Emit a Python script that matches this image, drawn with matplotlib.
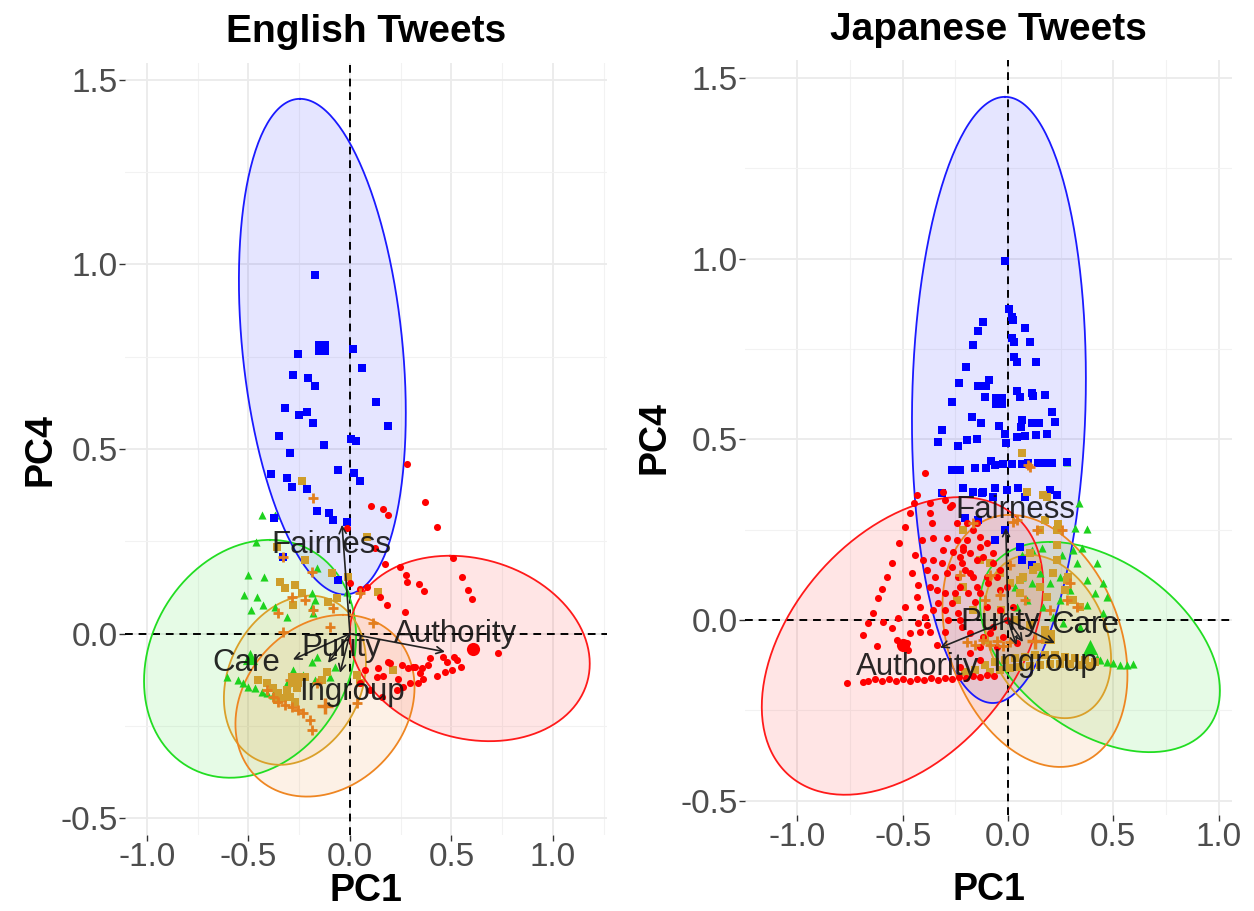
import numpy as np
import matplotlib
matplotlib.use("Agg")
import matplotlib.pyplot as plt

plt.rcParams['font.family'] = ['Liberation Sans', 'DejaVu Sans']

# ---------------- English tweets (left panel) ----------------
en_fair_x = [-0.172, 0.015, -0.256, 0.059, -0.281, -0.207, -0.172, 0.128, -0.320, -0.251, -0.212,
             -0.182, 0.187, -0.350, -0.128, -0.296, 0.005, 0.030, -0.059, 0.020, 0.049, -0.389,
             -0.310, -0.286, -0.212, -0.163, -0.103, -0.084, -0.015, -0.374, -0.330, -0.059]
en_fair_y = [0.972, 0.771, 0.758, 0.720, 0.701, 0.693, 0.671, 0.628, 0.612, 0.593, 0.601,
             0.571, 0.563, 0.536, 0.512, 0.490, 0.528, 0.522, 0.444, 0.436, 0.414, 0.433,
             0.422, 0.398, 0.393, 0.333, 0.328, 0.309, 0.303, 0.314, 0.208, 0.146]

en_auth_x = [0.281, 0.369, 0.429, 0.103, 0.163, 0.187, -0.015, 0.123, 0.172, 0.246, 0.276, 0.281,
             0.340, 0.365, 0.507, 0.552, 0.581, 0.601, 0.084, 0.148, 0.182, 0.271, 0.000, 0.049,
             0.729, 0.458, 0.478, 0.512, 0.527, 0.547, 0.502, 0.468, 0.394, 0.384, 0.355, 0.320,
             0.345, 0.429, 0.360, 0.335, 0.197, 0.256, 0.286, 0.163, 0.236, 0.261, 0.187, 0.138,
             0.133, 0.074, 0.049, 0.099, 0.158, 0.232, 0.310, 0.296]
en_auth_y = [0.460, 0.357, 0.290, 0.347, 0.338, 0.322, 0.287, 0.233, 0.190, 0.181, 0.160, 0.141,
             0.135, 0.116, 0.206, 0.154, 0.119, 0.095, 0.127, 0.100, 0.079, 0.060, 0.138, 0.122,
             -0.051, -0.062, -0.076, -0.062, -0.070, -0.089, -0.097, -0.103, -0.065, -0.084, -0.092, -0.089,
             -0.106, -0.114, -0.122, -0.133, -0.079, -0.084, -0.092, -0.114, -0.122, -0.143, -0.076, -0.092,
             -0.116, -0.097, -0.133, -0.152, -0.171, -0.152, -0.089, -0.133]

en_care_x = [-0.433, -0.369, -0.463, -0.502, -0.424, -0.522, -0.458, -0.429, -0.488, -0.369, -0.310,
             -0.187, -0.172, -0.187, -0.182, -0.163, -0.015, -0.606, -0.552, -0.527, -0.502, -0.468,
             -0.433, -0.409, -0.379, -0.281, -0.232, -0.172, -0.187, -0.163, -0.074, -0.099, -0.310]
en_care_y = [0.322, 0.322, 0.249, 0.160, 0.154, 0.106, 0.100, 0.079, 0.065, 0.073, 0.046,
             0.111, 0.092, 0.073, 0.057, 0.179, 0.114, -0.116, -0.125, -0.133, -0.143, -0.146,
             -0.157, -0.160, -0.165, -0.097, -0.111, -0.125, -0.076, -0.062, -0.089, -0.116, -0.133]

en_ingr_x = [-0.236, 0.084, -0.360, -0.222, -0.089, -0.010, -0.345, -0.271, -0.320, -0.236, -0.281,
             -0.108, -0.064, 0.138, 0.212, -0.453, -0.409, -0.379, -0.355, -0.330, -0.296, -0.261,
             -0.222, -0.138, -0.113, 0.034, 0.049, -0.310, -0.360, -0.271]
en_ingr_y = [0.414, 0.263, 0.236, 0.200, 0.165, 0.154, 0.141, 0.133, 0.125, 0.111, 0.079,
             0.087, 0.097, 0.114, -0.097, -0.125, -0.133, -0.146, -0.160, -0.173, -0.171, -0.146,
             -0.116, -0.125, -0.103, -0.111, -0.133, -0.152, -0.179, -0.184]

en_pur_x = [-0.182, -0.330, -0.187, -0.286, -0.222, -0.355, -0.182, -0.084, -0.330, -0.099, 0.113,
            0.049, -0.379, -0.355, -0.320, -0.286, -0.256, -0.232, -0.197, -0.187, 0.034, -0.163,
            -0.296, -0.409]
en_pur_y = [0.368, 0.208, 0.168, 0.100, 0.092, 0.057, 0.065, 0.070, 0.005, 0.019, 0.030,
            0.111, -0.171, -0.184, -0.192, -0.198, -0.206, -0.214, -0.233, -0.260, -0.187, -0.133,
            -0.125, -0.152]

# group means: Care, Fairness, Ingroup, Authority, Purity
en_mean_x = [-0.493, -0.138, -0.271, 0.606, -0.123]
en_mean_y = [-0.062, 0.774, -0.126, -0.041, -0.195]

# ellipses: centre, offset to topmost point, horizontal half chord through centre
en_ell_cx = [-0.492, -0.136, -0.271, 0.590, -0.123]
en_ell_cy = [-0.068, 0.777, -0.126, -0.040, -0.195]
en_ell_px = [0.098, -0.110, 0.074, -0.097, 0.089]
en_ell_py = [0.322, 0.671, 0.229, 0.251, 0.246]
en_ell_h = [0.513, 0.396, 0.342, 0.583, 0.432]

en_arrow_x = [-0.281, -0.039, -0.049, 0.468, -0.108]
en_arrow_y = [-0.070, 0.295, -0.106, -0.049, -0.079]
en_label_x = [-0.512, -0.094, 0.010, 0.522, -0.044]
en_label_y = [-0.079, 0.241, -0.157, 0.000, -0.038]

# ---------------- Japanese tweets (right panel) ----------------
ja_fair_x = [-0.014, 0.005, 0.019, 0.024, -0.119, -0.143, 0.081, -0.166, 0.019, 0.029, 0.105,
             0.029, 0.043, 0.133, -0.200, -0.233, -0.143, -0.105, -0.090, 0.043, 0.114, 0.119,
             0.176, -0.109, -0.052, -0.029, 0.057, -0.266, 0.209, -0.171, -0.128, -0.043, 0.067,
             0.062, 0.114, 0.147, 0.223, -0.314, -0.333, -0.238, -0.195, -0.147, -0.014, -0.010,
             0.043, 0.081, 0.133, 0.185, -0.266, -0.228, -0.157, -0.105, -0.081, -0.062, -0.024,
             0.019, 0.067, 0.095, 0.143, 0.176, 0.209, 0.280, -0.214, -0.166, -0.119, -0.062,
             -0.005, 0.048, 0.200, 0.233, 0.081, -0.314, -0.124, -0.071, -0.204, -0.143, 0.057,
             0.105, 0.067, 0.114, -0.062, -0.014]
ja_fair_y = [0.993, 0.861, 0.838, 0.830, 0.825, 0.800, 0.808, 0.761, 0.780, 0.769, 0.769,
             0.728, 0.714, 0.714, 0.700, 0.656, 0.647, 0.647, 0.664, 0.634, 0.628, 0.620,
             0.623, 0.617, 0.614, 0.614, 0.617, 0.603, 0.576, 0.562, 0.545, 0.537, 0.553,
             0.534, 0.545, 0.545, 0.548, 0.526, 0.493, 0.481, 0.498, 0.501, 0.515, 0.490,
             0.506, 0.509, 0.512, 0.515, 0.415, 0.415, 0.421, 0.421, 0.440, 0.429, 0.432,
             0.432, 0.432, 0.434, 0.434, 0.434, 0.434, 0.437, 0.365, 0.354, 0.354, 0.365,
             0.360, 0.365, 0.360, 0.346, 0.340, 0.351, 0.351, 0.340, 0.282, 0.277, 0.202,
             0.185, 0.166, 0.152, 0.221, 0.249]

ja_auth_x = [-0.394, -0.432, -0.447, -0.309, -0.299, -0.266, -0.466, -0.489, -0.371, -0.361, -0.518,
             -0.409, -0.356, -0.290, -0.242, -0.309, -0.261, -0.214, -0.551, -0.442, -0.404, -0.356,
             -0.314, -0.266, -0.219, -0.575, -0.456, -0.385, -0.347, -0.290, -0.238, -0.599, -0.618,
             -0.428, -0.371, -0.337, -0.299, -0.252, -0.641, -0.665, -0.689, -0.622, -0.594, -0.551,
             -0.523, -0.489, -0.466, -0.527, -0.480, -0.475, -0.432, -0.418, -0.428, -0.394, -0.385,
             -0.371, -0.418, -0.356, -0.333, -0.337, -0.299, -0.266, -0.285, -0.238, -0.219, -0.299,
             -0.765, -0.689, -0.665, -0.632, -0.599, -0.565, -0.532, -0.499, -0.466, -0.432, -0.399,
             -0.366, -0.333, -0.299, -0.266, -0.233, -0.200, -0.166, -0.133, -0.100, -0.067, -0.195,
             -0.166, -0.133, -0.214, -0.181, -0.204, -0.166, -0.228, -0.190, -0.147, -0.157, -0.119,
             -0.071, -0.052, -0.095, -0.038, -0.133, -0.228, -0.181, -0.119, -0.071, -0.005, -0.181,
             -0.133, -0.228, -0.371, -0.276, -0.242, -0.147, -0.195, -0.100, -0.228, -0.147, -0.071,
             -0.181, -0.100, -0.038, -0.133, -0.005, -0.100, -0.038, 0.024, -0.086, -0.024, -0.133,
             -0.052, 0.043]
ja_auth_y = [0.407, 0.346, 0.324, 0.354, 0.332, 0.318, 0.296, 0.257, 0.296, 0.268, 0.213,
             0.221, 0.227, 0.227, 0.221, 0.194, 0.188, 0.194, 0.158, 0.180, 0.166, 0.166,
             0.158, 0.147, 0.158, 0.119, 0.130, 0.138, 0.119, 0.130, 0.119, 0.086, 0.061,
             0.097, 0.091, 0.083, 0.075, 0.075, 0.019, -0.008, -0.042, -0.072, -0.006, -0.022,
             0.006, 0.036, -0.036, -0.055, -0.064, -0.083, 0.064, 0.036, -0.008, 0.008, -0.014,
             -0.033, -0.033, 0.028, 0.047, -0.069, 0.028, 0.047, 0.000, 0.019, -0.019, -0.033,
             -0.174, -0.172, -0.169, -0.163, -0.169, -0.163, -0.169, -0.163, -0.169, -0.163, -0.166,
             -0.160, -0.166, -0.160, -0.163, -0.158, -0.160, -0.155, -0.158, -0.152, -0.155, 0.268,
             0.249, 0.230, 0.202, 0.185, 0.138, 0.119, 0.091, 0.075, 0.091, 0.050, 0.174,
             0.158, 0.119, 0.102, 0.083, 0.202, 0.000, -0.036, -0.047, -0.019, 0.000, -0.091,
             -0.111, -0.130, 0.324, 0.313, 0.268, 0.268, 0.221, 0.213, 0.174, 0.166, 0.185,
             0.130, 0.119, 0.138, 0.075, 0.091, 0.036, 0.028, 0.036, -0.036, -0.047, -0.075,
             -0.075, -0.064]

ja_care_x = [0.280, 0.337, 0.318, 0.375, 0.352, 0.309, 0.423, 0.328, 0.257, 0.162, 0.114,
             0.067, 0.152, 0.114, 0.067, 0.033, 0.200, 0.247, 0.375, 0.451, 0.295, 0.413,
             0.470, 0.247, 0.375, 0.451, 0.166, 0.090, 0.043, 0.214, 0.261, 0.342, 0.423,
             0.437, 0.470, 0.499, 0.532, 0.565, 0.594, 0.366]
ja_care_y = [0.437, 0.324, 0.255, 0.252, 0.199, 0.194, 0.158, 0.158, 0.180, 0.199, 0.194,
             0.180, 0.130, 0.102, 0.119, 0.091, 0.102, 0.119, 0.111, 0.102, 0.083, 0.075,
             0.064, 0.055, 0.042, 0.019, 0.036, 0.055, 0.036, 0.008, -0.008, -0.019, -0.105,
             -0.111, -0.116, -0.119, -0.125, -0.125, -0.122, -0.097]

ja_ingr_x = [-0.204, -0.157, -0.109, -0.086, -0.062, -0.038, -0.014, 0.010, 0.033, 0.057, 0.081,
             0.105, 0.128, 0.152, 0.176, 0.200, 0.223, 0.247, 0.271, 0.295, 0.318, 0.342,
             0.366, 0.390, 0.413, 0.067, 0.090, 0.166, 0.176, 0.238, 0.233, 0.285, 0.271,
             0.233, 0.105, 0.138, 0.071, 0.152, 0.185, 0.057, 0.010, -0.038, -0.086, -0.214,
             -0.133, -0.214, -0.242, -0.166, 0.185, 0.152, 0.233, 0.057, 0.119, 0.214, 0.280,
             0.309, 0.342, -0.033, 0.033, 0.105, 0.176, -0.109]
ja_ingr_y = [-0.144, -0.138, -0.125, -0.144, -0.116, -0.138, -0.111, -0.133, -0.105, -0.130, -0.102,
             -0.127, -0.097, -0.125, -0.097, -0.122, -0.097, -0.122, -0.102, -0.122, -0.105, -0.125,
             -0.111, -0.127, -0.116, 0.462, 0.354, 0.346, 0.277, 0.266, 0.208, 0.119, 0.083,
             0.166, 0.185, 0.147, 0.119, 0.091, 0.064, 0.075, 0.102, 0.130, 0.158, 0.249,
             0.166, 0.091, 0.055, 0.028, 0.340, 0.249, 0.249, 0.111, 0.138, 0.130, 0.111,
             0.055, 0.036, 0.028, 0.000, -0.014, -0.028, -0.055]

ja_pur_x = [0.095, 0.043, 0.138, 0.257, 0.295, 0.328, 0.280, 0.105, -0.166, 0.024, -0.119,
            -0.086, -0.052, -0.024, 0.010, -0.157, -0.195, -0.109, -0.038, -0.086, 0.010, 0.081,
            0.200, -0.228]
ja_pur_y = [0.429, 0.277, 0.249, 0.249, 0.102, 0.036, 0.055, 0.423, 0.268, 0.271, -0.055,
            -0.069, -0.058, -0.072, -0.061, -0.069, -0.061, 0.055, 0.069, 0.125, 0.152, 0.055,
            0.028, 0.125]

ja_mean_x = [0.390, -0.043, 0.188, -0.500, 0.128]
ja_mean_y = [-0.075, 0.606, -0.046, -0.070, -0.058]

ja_ell_cx = [0.437, -0.043, 0.188, -0.501, 0.128]
ja_ell_cy = [-0.075, 0.609, -0.046, -0.072, -0.058]
ja_ell_px = [-0.237, 0.029, -0.083, 0.273, -0.119]
ja_ell_py = [0.291, 0.839, 0.226, 0.412, 0.349]
ja_ell_h = [0.518, 0.412, 0.290, 0.610, 0.423]

ja_arrow_x = [0.223, -0.010, 0.040, -0.323, 0.071]
ja_arrow_y = [-0.064, 0.255, -0.070, -0.077, -0.061]
ja_label_x = [0.366, 0.033, 0.176, -0.428, -0.038]
ja_label_y = [-0.014, 0.304, -0.119, -0.130, -0.006]

foundations = ['Care', 'Fairness', 'Ingroup', 'Authority', 'Purity']

# styles
pt_colors = ['#1ED21E', '#0000FF', '#CF9E2C', '#FF0000', '#E27E1E']
ell_colors = ['#22DD22', '#1A1AFF', '#DAA02A', '#FF1A1A', '#EE8622']
markers = ['^', 's', 's', 'o', '+']
sizes = [34, 32, 34, 26, 60]
mean_sizes = [120, 105, 100, 90, 140]


def ellipse_curve(cx, cy, px, py, h):
    t = np.linspace(0, 2 * np.pi, 240)
    return cx + px * np.cos(t) + h * np.sin(t), cy + py * np.cos(t)


def draw_panel(ax, title, groups, means, ells, arrows, labels, xlim, ylim):
    ax.set_xticks([-1.0, -0.5, 0.0, 0.5, 1.0])
    ax.set_xticklabels(['-1.0', '-0.5', '0.0', '0.5', '1.0'])
    ax.set_yticks([-0.5, 0.0, 0.5, 1.0, 1.5])
    ax.set_yticklabels(['-0.5', '0.0', '0.5', '1.0', '1.5'])
    ax.set_xticks([-1.25, -0.75, -0.25, 0.25, 0.75, 1.25], minor=True)
    ax.set_yticks([-0.25, 0.25, 0.75, 1.25], minor=True)
    ax.set_xlim(*xlim)
    ax.set_ylim(*ylim)
    ax.grid(True, which='major', color='#EBEBEB', lw=1.3)
    ax.grid(True, which='minor', color='#F2F2F2', lw=0.8)
    ax.tick_params(which='major', length=4, width=1, color='#333333',
                   labelsize=24, labelcolor='#4D4D4D', pad=1)
    ax.tick_params(which='minor', length=0)
    for s in ax.spines.values():
        s.set_visible(False)
    ax.set_axisbelow(True)

    cx, cy, px, py, hh = ells
    for i in range(5):
        ex, ey = ellipse_curve(cx[i], cy[i], px[i], py[i], hh[i])
        ax.fill(ex, ey, color=ell_colors[i], alpha=0.11, lw=0, zorder=2)
        ax.plot(ex, ey, color=ell_colors[i], lw=1.3, zorder=4)

    ax.axhline(0, color='black', ls=(0, (4, 3)), lw=1.4, zorder=3)
    ax.axvline(0, color='black', ls=(0, (4, 3)), lw=1.4, zorder=3)

    for i, (gx, gy) in enumerate(groups):
        if markers[i] == '+':
            ax.scatter(gx, gy, marker='+', s=sizes[i], c=pt_colors[i], linewidths=2, zorder=5)
        else:
            ax.scatter(gx, gy, marker=markers[i], s=sizes[i], c=pt_colors[i], linewidths=0, zorder=5)
    mx, my = means
    for i in range(5):
        lw = 2.5 if markers[i] == '+' else 0
        ax.scatter([mx[i]], [my[i]], marker=markers[i], s=mean_sizes[i], c=pt_colors[i],
                   linewidths=lw, zorder=6)

    axx, ayy = arrows
    lx, ly = labels
    for i in range(5):
        ax.annotate('', xy=(axx[i], ayy[i]), xytext=(0, 0),
                    arrowprops=dict(arrowstyle='->,head_length=0.5,head_width=0.25',
                                    color='#222222', lw=1.2, shrinkA=0, shrinkB=0), zorder=7)
        ax.text(lx[i], ly[i], foundations[i], fontsize=22.5, color='#111111', alpha=0.9,
                ha='center', va='center', zorder=8)

    ax.set_xlim(*xlim)
    ax.set_ylim(*ylim)
    ax.set_title(title, fontsize=28, fontweight='bold', y=1.04, pad=0, va='center')


fig = plt.figure(figsize=(12.54, 9.11), dpi=100)
ax1 = fig.add_axes([125 / 1254, 76 / 911, 482 / 1254, 772 / 911])
ax2 = fig.add_axes([745 / 1254, 96 / 911, 487 / 1254, 755 / 911])

draw_panel(ax1, 'English Tweets',
           [(en_care_x, en_care_y), (en_fair_x, en_fair_y), (en_ingr_x, en_ingr_y),
            (en_auth_x, en_auth_y), (en_pur_x, en_pur_y)],
           (en_mean_x, en_mean_y),
           (en_ell_cx, en_ell_cy, en_ell_px, en_ell_py, en_ell_h),
           (en_arrow_x, en_arrow_y), (en_label_x, en_label_y),
           (-1.108, 1.266), (-0.545, 1.545))

draw_panel(ax2, 'Japanese Tweets',
           [(ja_care_x, ja_care_y), (ja_fair_x, ja_fair_y), (ja_ingr_x, ja_ingr_y),
            (ja_auth_x, ja_auth_y), (ja_pur_x, ja_pur_y)],
           (ja_mean_x, ja_mean_y),
           (ja_ell_cx, ja_ell_cy, ja_ell_px, ja_ell_py, ja_ell_h),
           (ja_arrow_x, ja_arrow_y), (ja_label_x, ja_label_y),
           (-1.249, 1.064), (-0.54, 1.55))

for ax, ybot in [(ax1, -0.073), (ax2, -0.1)]:
    ax.set_xlabel('PC1', fontsize=27, fontweight='bold')
    ax.xaxis.label.set_va('center')
    ax.xaxis.set_label_coords(0.5, ybot)
    ax.set_ylabel('PC4', fontsize=27, fontweight='bold')
    ax.yaxis.label.set_va('center')
ax1.yaxis.set_label_coords(-0.176, 0.5)
ax2.yaxis.set_label_coords(-0.185, 0.5)

fig.savefig('out.png', dpi=100, facecolor='white')
